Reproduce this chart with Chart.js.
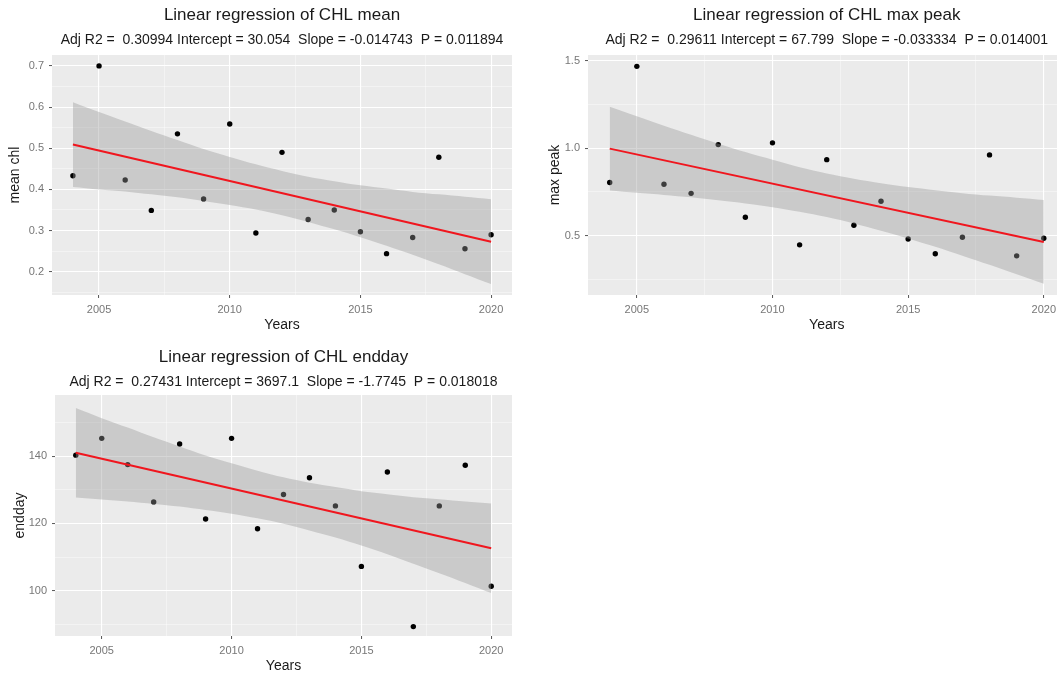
<!DOCTYPE html>
<html>
<head>
<meta charset="utf-8">
<script src="https://cdn.jsdelivr.net/npm/chart.js@4.4.0/dist/chart.umd.min.js"></script>
<style>
  body { margin: 0; width: 1057px; height: 673px; overflow: hidden; background: #fff; position: relative; }
  canvas { position: absolute; }
</style>
</head>
<body>
<canvas id="meanChart" width="530" height="340" style="left:0;top:0"></canvas>
<canvas id="peakChart" width="550" height="340" style="left:530px;top:0"></canvas>
<canvas id="enddayChart" width="530" height="346" style="left:0;top:330px"></canvas>
<script>
// Years on the x axis (shared by all three panels)
const years = [2004, 2005, 2006, 2007, 2008, 2009, 2010, 2011, 2012, 2013, 2014, 2015, 2016, 2017, 2018, 2019, 2020];

// Observed values
const meanChl = [0.433, 0.700, 0.423, 0.349, 0.535, 0.377, 0.559, 0.294, 0.490, 0.327, 0.350, 0.297, 0.244, 0.283, 0.478, 0.256, 0.290];
const maxPeak = [0.804, 1.469, 0.794, 0.742, 1.021, 0.605, 1.031, 0.447, 0.935, 0.559, 0.697, 0.481, 0.396, 0.491, 0.962, 0.384, 0.485];
const endday = [140.3, 145.3, 137.5, 126.4, 143.6, 121.3, 145.3, 118.4, 128.6, 133.6, 125.2, 107.2, 135.3, 89.3, 125.2, 137.3, 101.3];

// Regression line end points
const fitYears = [2004, 2020];
const meanFit = [0.509, 0.273];
const peakFit = [0.998, 0.464];
const enddayFit = [141.0, 112.6];

// Confidence band
const meanUpper = [0.612, 0.588, 0.565, 0.542, 0.520, 0.498, 0.479, 0.461, 0.445, 0.431, 0.420, 0.410, 0.402, 0.394, 0.388, 0.382, 0.376];
const meanLower = [0.406, 0.400, 0.395, 0.388, 0.381, 0.372, 0.362, 0.351, 0.337, 0.321, 0.303, 0.284, 0.263, 0.241, 0.218, 0.194, 0.170];
const peakUpper = [1.238, 1.183, 1.129, 1.077, 1.026, 0.978, 0.934, 0.892, 0.856, 0.826, 0.800, 0.778, 0.760, 0.743, 0.729, 0.717, 0.704];
const peakLower = [0.758, 0.745, 0.733, 0.719, 0.702, 0.684, 0.662, 0.636, 0.606, 0.570, 0.528, 0.484, 0.436, 0.385, 0.333, 0.279, 0.224];
const enddayUpper = [154.3, 151.3, 148.5, 145.6, 142.9, 140.2, 137.9, 135.7, 133.7, 132.1, 130.8, 129.6, 128.7, 127.8, 127.2, 126.5, 125.9];
const enddayLower = [127.7, 127.1, 126.5, 125.8, 125.0, 124.0, 122.9, 121.5, 119.9, 117.9, 115.8, 113.4, 110.8, 108.0, 105.2, 102.3, 99.3];

// Tick labels and minor gridlines
const xTicks = [2005, 2010, 2015, 2020];
const xMinor = [2007.5, 2012.5, 2017.5];
const meanTicks = [0.2, 0.3, 0.4, 0.5, 0.6, 0.7];
const meanMinor = [0.15, 0.25, 0.35, 0.45, 0.55, 0.65];
const peakTicks = [0.5, 1.0, 1.5];
const peakMinor = [0.25, 0.75, 1.25];
const enddayTicks = [100, 120, 140];
const enddayMinor = [90, 110, 130, 150];

const FONT = "'Liberation Sans', Arial, sans-serif";

// grey ggplot-like panel background
const panelBg = {
  id: 'panelBg',
  beforeDraw(chart) {
    const a = chart.chartArea;
    const ctx = chart.ctx;
    ctx.save();
    ctx.fillStyle = '#EBEBEB';
    ctx.fillRect(a.left, a.top, a.right - a.left, a.bottom - a.top);
    ctx.restore();
  }
};

function toPoints(xs, ys) {
  return xs.map((x, i) => ({ x: x, y: ys[i] }));
}

function setTicks(major, minor) {
  return function (scale) {
    const all = major.map(v => ({ value: v, minor: false }))
      .concat(minor.map(v => ({ value: v, minor: true })));
    all.sort((a, b) => a.value - b.value);
    scale.ticks = all;
  };
}

function gridOpts() {
  return {
    color: c => c.tick && c.tick.minor ? 'rgba(255,255,255,0.7)' : '#FFFFFF',
    lineWidth: c => c.tick && c.tick.minor ? 0.6 : 1.1,
    tickColor: c => c.tick && c.tick.minor ? 'rgba(0,0,0,0)' : '#555',
    tickLength: 3,
    tickWidth: 1
  };
}

function makePanel(id, p) {
  const ctx = document.getElementById(id).getContext('2d');
  return new Chart(ctx, {
    type: 'line',
    data: {
      datasets: [
        {
          data: toPoints(fitYears, p.fit),
          borderColor: '#F0161E',
          borderWidth: 2,
          pointRadius: 0,
          fill: false,
          order: 0
        },
        {
          data: toPoints(years, p.upper),
          borderWidth: 0,
          borderColor: 'rgba(0,0,0,0)',
          backgroundColor: 'rgba(153,153,153,0.4)',
          pointRadius: 0,
          tension: 0.3,
          fill: '+1',
          order: 1
        },
        {
          data: toPoints(years, p.lower),
          borderWidth: 0,
          borderColor: 'rgba(0,0,0,0)',
          pointRadius: 0,
          tension: 0.3,
          fill: false,
          order: 2
        },
        {
          data: toPoints(years, p.values),
          showLine: false,
          pointRadius: 2.7,
          pointBackgroundColor: '#000',
          pointBorderWidth: 0,
          order: 3
        }
      ]
    },
    options: {
      responsive: false,
      animation: false,
      devicePixelRatio: 1,
      layout: { padding: p.padding },
      plugins: {
        legend: { display: false },
        tooltip: { enabled: false },
        title: {
          display: true, text: p.title, fullSize: false, color: '#1a1a1a',
          font: { family: FONT, size: 17, weight: 'normal' },
          padding: { top: 5.5, bottom: 0 }
        },
        subtitle: {
          display: true, text: p.subtitle, fullSize: false, color: '#1a1a1a',
          font: { family: FONT, size: 14, weight: 'normal' },
          padding: { top: 5.7, bottom: p.subBottom }
        }
      },
      scales: {
        x: {
          type: 'linear',
          min: 2003.2,
          max: 2020.8,
          afterBuildTicks: setTicks(xTicks, xMinor),
          afterFit: s => { s.height = 39; },
          border: { display: false },
          grid: gridOpts(),
          ticks: {
            autoSkip: false, maxRotation: 0, padding: 5,
            color: '#777', font: { family: FONT, size: 11 },
            callback: (v, i, t) => t[i].minor ? '' : String(v)
          },
          title: {
            display: true, text: 'Years', color: '#1a1a1a',
            font: { family: FONT, size: 14 },
            padding: { top: 0, bottom: 0 }
          }
        },
        y: {
          type: 'linear',
          min: p.yMin,
          max: p.yMax,
          afterBuildTicks: setTicks(p.ticks, p.minor),
          afterFit: s => { s.width = p.yWidth; },
          border: { display: false },
          grid: gridOpts(),
          ticks: {
            autoSkip: false, padding: 5,
            color: '#777', font: { family: FONT, size: 11 },
            callback: (v, i, t) => t[i].minor ? '' : v.toFixed(p.digits)
          },
          title: {
            display: true, text: p.yLabel, color: '#1a1a1a',
            font: { family: FONT, size: 14 },
            padding: { top: p.yTitlePad, bottom: 0 }
          }
        }
      }
    },
    plugins: [panelBg]
  });
}

makePanel('meanChart', {
  title: 'Linear regression of CHL mean',
  subtitle: 'Adj R2 =  0.30994 Intercept = 30.054  Slope = -0.014743  P = 0.011894',
  values: meanChl, fit: meanFit, upper: meanUpper, lower: meanLower,
  ticks: meanTicks, minor: meanMinor, digits: 1,
  yMin: 0.1435, yMax: 0.7265, yLabel: 'mean chl',
  yWidth: 52, yTitlePad: 6.6, subBottom: 6.6,
  padding: { top: 0, left: 0, right: 18, bottom: 6 }
});

makePanel('peakChart', {
  title: 'Linear regression of CHL max peak',
  subtitle: 'Adj R2 =  0.29611 Intercept = 67.799  Slope = -0.033334  P = 0.014001',
  values: maxPeak, fit: peakFit, upper: peakUpper, lower: peakLower,
  ticks: peakTicks, minor: peakMinor, digits: 1,
  yMin: 0.16, yMax: 1.534, yLabel: 'max peak',
  yWidth: 58, yTitlePad: 16.6, subBottom: 6.6,
  padding: { top: 0, left: 0, right: 14.5, bottom: 6 }
});

makePanel('enddayChart', {
  title: 'Linear regression of CHL endday',
  subtitle: 'Adj R2 =  0.27431 Intercept = 3697.1  Slope = -1.7745  P = 0.018018',
  values: endday, fit: enddayFit, upper: enddayUpper, lower: enddayLower,
  ticks: enddayTicks, minor: enddayMinor, digits: 0,
  yMin: 86.5, yMax: 158.2, yLabel: 'endday',
  yWidth: 55, yTitlePad: 11.6, subBottom: 4.6,
  padding: { top: 12, left: 0, right: 18, bottom: 1 }
});
</script>
</body>
</html>
